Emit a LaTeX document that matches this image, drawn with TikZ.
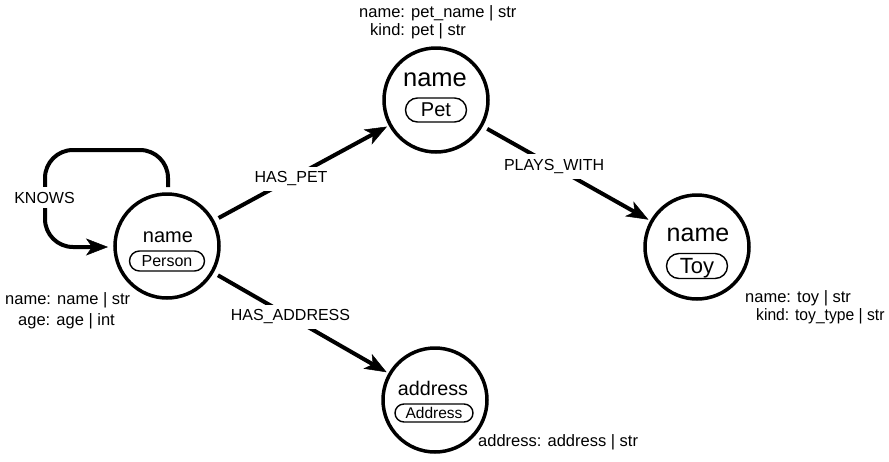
\documentclass[tikz,border=0pt]{standalone}
\usepackage{fontspec}
\setmainfont{Liberation Sans}
\usetikzlibrary{arrows.meta,calc}
\begin{document}
\begin{tikzpicture}[x=1pt,y=-1pt,
  ent/.style={circle, draw, line width=3.5pt, minimum size=104pt, inner sep=0pt},
  edge/.style={line width=4pt, shorten <=5pt, shorten >=2pt,
    -{Stealth[length=22pt,width=17pt,inset=6pt,line width=0.5pt]}},
  elabel/.style={fill=white, font=\fontsize{16}{19}\selectfont, inner xsep=2pt, inner ysep=5pt},
  pill/.style={draw, line width=1.4pt, inner sep=0pt, text depth=0pt},
  prop/.style={anchor=base west, inner sep=0pt, font=\fontsize{16.5}{19}\selectfont},
  nm/.style={anchor=base, inner sep=0pt}
]
\fill[white] (0,0) rectangle (889,461);
\useasboundingbox (0,0) rectangle (889,461);

% entities
\node[ent] (person) at (167,246) {};
\node[ent] (pet) at (436,100) {};
\node[ent] (toy) at (697,247) {};
\node[ent] (address) at (435,400) {};

% entity texts
\node[nm, font=\fontsize{20}{24}\selectfont] (personname) at (168,242) {name};
\node[pill, rounded corners=10pt, minimum width=75pt, minimum height=20pt,
  font=\fontsize{16}{19}\selectfont] (personlbl) at (167,261) {Person};

\node[nm, font=\fontsize{25.5}{30}\selectfont] (petname) at (435,86) {name};
\node[pill, rounded corners=12pt, minimum width=61pt, minimum height=24pt,
  font=\fontsize{20}{24}\selectfont] (petlbl) at (436,110) {Pet};

\node[nm, font=\fontsize{25}{30}\selectfont] (toyname) at (698,241) {name};
\node[pill, rounded corners=12.5pt, minimum width=61pt, minimum height=25pt,
  font=\fontsize{22}{26}\selectfont] (toylbl) at (697,266) {Toy};

\node[nm, font=\fontsize{19.7}{24}\selectfont] (addrname) at (433,395) {address};
\node[pill, rounded corners=9pt, minimum width=78pt, minimum height=18pt,
  font=\fontsize{15.5}{19}\selectfont] (addrlbl) at (434,413) {Address};

% properties
\node[prop] (pp1) at (5,304) {name: name | str};
\node[prop] (pp2) at (18,325) {age: age | int};
\node[prop] (pt1) at (359,17) {name: pet\_name | str};
\node[prop] (pt2) at (370,35) {kind: pet | str};
\node[prop] (ty1) at (745,302) {name: toy | str};
\node[prop] (ty2) at (756,320) {\scalebox{0.95}[1]{kind: toy\_type | str}};
\node[prop] (ad1) at (478,446) {address: address | str};

% edges
\draw[edge] (person) -- (pet) node[elabel, pos=0.44] (lhaspet) {HAS\_PET};
\draw[edge] (pet) -- (toy) node[elabel, pos=0.426] (lplays) {PLAYS\_WITH};
\draw[edge] (person) -- (address) node[elabel, pos=0.44] (lhasaddr) {HAS\_ADDRESS};

% self loop
\coordinate (kstart) at ($(person.center)+(1,-59)$);
\coordinate (kend) at ($(person.center)+(-59,1)$);
\draw[edge, shorten <=0pt, shorten >=0pt, rounded corners=28pt]
  (kstart) |- (45,150) |- (kend);
\node[elabel] (lknows) at (44.5,197.5) {KNOWS};
\end{tikzpicture}
\end{document}
